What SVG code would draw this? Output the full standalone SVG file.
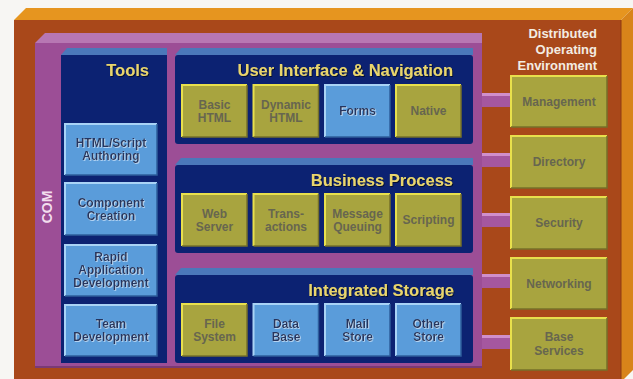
<svg xmlns="http://www.w3.org/2000/svg" width="633" height="379" viewBox="0 0 633 379">
<defs>
<style>
text{font-family:"Liberation Sans",Arial,Helvetica,sans-serif;font-weight:bold}
.title{font-size:16.5px;fill:#E9D56C;text-anchor:end}
.lbl{font-size:12px;text-anchor:middle}
.ol{fill:#A8A43F}
.olhi{fill:none;stroke:#E8E04C;stroke-width:2}
.olsh{fill:none;stroke:#75702A;stroke-width:1.5}
.olt{fill:#67664F}
.bl{fill:#5A9CDA}
.blhi{fill:none;stroke:#A9D3F6;stroke-width:2}
.blsh{fill:none;stroke:#2E5E9C;stroke-width:1.5}
.blt{fill:#25365F}
.navy{fill:#0C2272}
.navytop{fill:#4B78BA}
.bar{fill:#A5579F}
.barhi{fill:#D08FCB}
.env{font-size:13px;fill:#F3ECE2;text-anchor:end}
</style>
<filter id="ts" x="-10%" y="-20%" width="120%" height="140%">
<feDropShadow dx="1" dy="1" stdDeviation="0.4" flood-color="#000" flood-opacity="0.6"/>
</filter>
<filter id="ls" x="-10%" y="-20%" width="120%" height="140%">
<feDropShadow dx="0.8" dy="0.8" stdDeviation="0.3" flood-color="#E6F2FF" flood-opacity="0.8"/>
</filter>
</defs>

<rect x="0" y="0" width="633" height="379" fill="#F7F6F3"/>

<!-- Distributed Operating Environment outer slab -->
<g id="environment">
<rect x="14" y="20" width="607" height="359" fill="#A9481A"/>
<polygon points="14,20 26,8 633,8 621,20" fill="#E6951F"/>
<polygon points="621,20 633,8 633,370 624,379 621,379" fill="#D8841A"/>
<line x1="621" y1="20" x2="621" y2="379" stroke="#8E3A10" stroke-width="1"/>
<text class="env" x="597" y="38">Distributed</text>
<text class="env" x="597" y="54">Operating</text>
<text class="env" x="597" y="70">Environment</text>
</g>

<!-- COM layer -->
<g id="com">
<rect x="35" y="43" width="447" height="325" fill="#9C4E96"/>
<polygon points="35,43 45,33 482,33 482,43" fill="#B777B3"/>
<rect x="35" y="366" width="447" height="2" fill="#7A3A75"/>
<text x="47" y="207" transform="rotate(-90 47 207)" text-anchor="middle" dominant-baseline="central" font-size="14" fill="#F2DDEE">COM</text>
</g>

<!-- connectors -->
<g id="connectors">
<rect class="bar" x="482" y="93" width="29" height="14"/><rect class="barhi" x="482" y="93" width="29" height="3"/>
<rect class="bar" x="482" y="153" width="29" height="14"/><rect class="barhi" x="482" y="153" width="29" height="3"/>
<rect class="bar" x="482" y="213" width="29" height="14"/><rect class="barhi" x="482" y="213" width="29" height="3"/>
<rect class="bar" x="482" y="274" width="29" height="14"/><rect class="barhi" x="482" y="274" width="29" height="3"/>
<rect class="bar" x="482" y="335" width="29" height="14"/><rect class="barhi" x="482" y="335" width="29" height="3"/>
</g>

<!-- Tools column -->
<g id="tools">
<rect class="navy" x="61" y="55" width="106" height="308"/>
<polygon class="navytop" points="61,55 67,48 167,48 167,55"/>
<text class="title" x="149" y="76" filter="url(#ts)">Tools</text>
</g>
<g id="html-script-authoring">
<rect class="bl" x="65" y="124" width="92" height="51"/>
<path class="blhi" d="M65,175 V124 H157"/><path class="blsh" d="M157,124 V175 H65"/>
<text class="lbl blt" x="111" y="147.3" filter="url(#ls)">HTML/Script</text>
<text class="lbl blt" x="111" y="160.3" filter="url(#ls)">Authoring</text>
</g>
<g id="component-creation">
<rect class="bl" x="65" y="183" width="92" height="52"/>
<path class="blhi" d="M65,235 V183 H157"/><path class="blsh" d="M157,183 V235 H65"/>
<text class="lbl blt" x="111" y="207" filter="url(#ls)">Component</text>
<text class="lbl blt" x="111" y="220" filter="url(#ls)">Creation</text>
</g>
<g id="rapid-application-development">
<rect class="bl" x="65" y="245" width="92" height="51"/>
<path class="blhi" d="M65,296 V245 H157"/><path class="blsh" d="M157,245 V296 H65"/>
<text class="lbl blt" x="111" y="260.8" filter="url(#ls)">Rapid</text>
<text class="lbl blt" x="111" y="274" filter="url(#ls)">Application</text>
<text class="lbl blt" x="111" y="287.3" filter="url(#ls)">Development</text>
</g>
<g id="team-development">
<rect class="bl" x="65" y="305" width="92" height="51"/>
<path class="blhi" d="M65,356 V305 H157"/><path class="blsh" d="M157,305 V356 H65"/>
<text class="lbl blt" x="111" y="327.8" filter="url(#ls)">Team</text>
<text class="lbl blt" x="111" y="341.3" filter="url(#ls)">Development</text>
</g>

<!-- User Interface & Navigation -->
<g id="user-interface-navigation">
<rect class="navy" x="175" y="55" width="298" height="89" rx="3"/>
<polygon class="navytop" points="175,55 181,48 473,48 473,55"/>
<text class="title" x="453" y="76" filter="url(#ts)">User Interface &amp; Navigation</text>
</g>
<g id="basic-html">
<rect class="ol" x="182" y="85" width="65" height="52"/>
<path class="olhi" d="M182,137 V85 H247"/><path class="olsh" d="M247,85 V137 H182"/>
<text class="lbl olt" x="214.5" y="108.5">Basic</text>
<text class="lbl olt" x="214.5" y="121.5">HTML</text>
</g>
<g id="dynamic-html">
<rect class="ol" x="253.5" y="85" width="65" height="52"/>
<path class="olhi" d="M253.5,137 V85 H318.5"/><path class="olsh" d="M318.5,85 V137 H253.5"/>
<text class="lbl olt" x="286" y="108.5">Dynamic</text>
<text class="lbl olt" x="286" y="121.5">HTML</text>
</g>
<g id="forms">
<rect class="bl" x="325" y="85" width="65" height="52"/>
<path class="blhi" d="M325,137 V85 H390"/><path class="blsh" d="M390,85 V137 H325"/>
<text class="lbl blt" x="357.5" y="115" filter="url(#ls)">Forms</text>
</g>
<g id="native">
<rect class="ol" x="396" y="85" width="65" height="52"/>
<path class="olhi" d="M396,137 V85 H461"/><path class="olsh" d="M461,85 V137 H396"/>
<text class="lbl olt" x="428.5" y="115">Native</text>
</g>

<!-- Business Process -->
<g id="business-process">
<rect class="navy" x="175" y="165" width="298" height="88" rx="3"/>
<polygon class="navytop" points="175,165 181,158 473,158 473,165"/>
<text class="title" x="453" y="186" filter="url(#ts)">Business Process</text>
</g>
<g id="web-server">
<rect class="ol" x="182" y="194" width="65" height="52"/>
<path class="olhi" d="M182,246 V194 H247"/><path class="olsh" d="M247,194 V246 H182"/>
<text class="lbl olt" x="214.5" y="217.5">Web</text>
<text class="lbl olt" x="214.5" y="230.5">Server</text>
</g>
<g id="transactions">
<rect class="ol" x="253.5" y="194" width="65" height="52"/>
<path class="olhi" d="M253.5,246 V194 H318.5"/><path class="olsh" d="M318.5,194 V246 H253.5"/>
<text class="lbl olt" x="286" y="217.5">Trans-</text>
<text class="lbl olt" x="286" y="230.5">actions</text>
</g>
<g id="message-queuing">
<rect class="ol" x="325" y="194" width="65" height="52"/>
<path class="olhi" d="M325,246 V194 H390"/><path class="olsh" d="M390,194 V246 H325"/>
<text class="lbl olt" x="357.5" y="217.5">Message</text>
<text class="lbl olt" x="357.5" y="230.5">Queuing</text>
</g>
<g id="scripting">
<rect class="ol" x="396" y="194" width="65" height="52"/>
<path class="olhi" d="M396,246 V194 H461"/><path class="olsh" d="M461,194 V246 H396"/>
<text class="lbl olt" x="428.5" y="224">Scripting</text>
</g>

<!-- Integrated Storage -->
<g id="integrated-storage">
<rect class="navy" x="175" y="275" width="298" height="88" rx="3"/>
<polygon class="navytop" points="175,275 181,268 473,268 473,275"/>
<text class="title" x="454" y="296" filter="url(#ts)">Integrated Storage</text>
</g>
<g id="file-system">
<rect class="ol" x="182" y="304" width="65" height="52"/>
<path class="olhi" d="M182,356 V304 H247"/><path class="olsh" d="M247,304 V356 H182"/>
<text class="lbl olt" x="214.5" y="327.5">File</text>
<text class="lbl olt" x="214.5" y="340.5">System</text>
</g>
<g id="data-base">
<rect class="bl" x="253.5" y="304" width="65" height="52"/>
<path class="blhi" d="M253.5,356 V304 H318.5"/><path class="blsh" d="M318.5,304 V356 H253.5"/>
<text class="lbl blt" x="286" y="327.5" filter="url(#ls)">Data</text>
<text class="lbl blt" x="286" y="340.5" filter="url(#ls)">Base</text>
</g>
<g id="mail-store">
<rect class="bl" x="325" y="304" width="65" height="52"/>
<path class="blhi" d="M325,356 V304 H390"/><path class="blsh" d="M390,304 V356 H325"/>
<text class="lbl blt" x="357.5" y="327.5" filter="url(#ls)">Mail</text>
<text class="lbl blt" x="357.5" y="340.5" filter="url(#ls)">Store</text>
</g>
<g id="other-store">
<rect class="bl" x="396" y="304" width="65" height="52"/>
<path class="blhi" d="M396,356 V304 H461"/><path class="blsh" d="M461,304 V356 H396"/>
<text class="lbl blt" x="428.5" y="327.5" filter="url(#ls)">Other</text>
<text class="lbl blt" x="428.5" y="340.5" filter="url(#ls)">Store</text>
</g>

<!-- Distributed services -->
<g id="management">
<rect class="ol" x="511" y="76" width="96" height="51"/>
<path class="olhi" d="M511,127 V76 H607"/><path class="olsh" d="M607,76 V127 H511"/>
<text class="lbl olt" x="559" y="105.8">Management</text>
</g>
<g id="directory">
<rect class="ol" x="511" y="136" width="96" height="52"/>
<path class="olhi" d="M511,188 V136 H607"/><path class="olsh" d="M607,136 V188 H511"/>
<text class="lbl olt" x="559" y="166.3">Directory</text>
</g>
<g id="security">
<rect class="ol" x="511" y="197" width="96" height="52"/>
<path class="olhi" d="M511,249 V197 H607"/><path class="olsh" d="M607,197 V249 H511"/>
<text class="lbl olt" x="559" y="227.3">Security</text>
</g>
<g id="networking">
<rect class="ol" x="511" y="258" width="96" height="51"/>
<path class="olhi" d="M511,309 V258 H607"/><path class="olsh" d="M607,258 V309 H511"/>
<text class="lbl olt" x="559" y="287.8">Networking</text>
</g>
<g id="base-services">
<rect class="ol" x="511" y="318" width="96" height="52"/>
<path class="olhi" d="M511,370 V318 H607"/><path class="olsh" d="M607,318 V370 H511"/>
<text class="lbl olt" x="559" y="341.3">Base</text>
<text class="lbl olt" x="559" y="355.3">Services</text>
</g>
</svg>
